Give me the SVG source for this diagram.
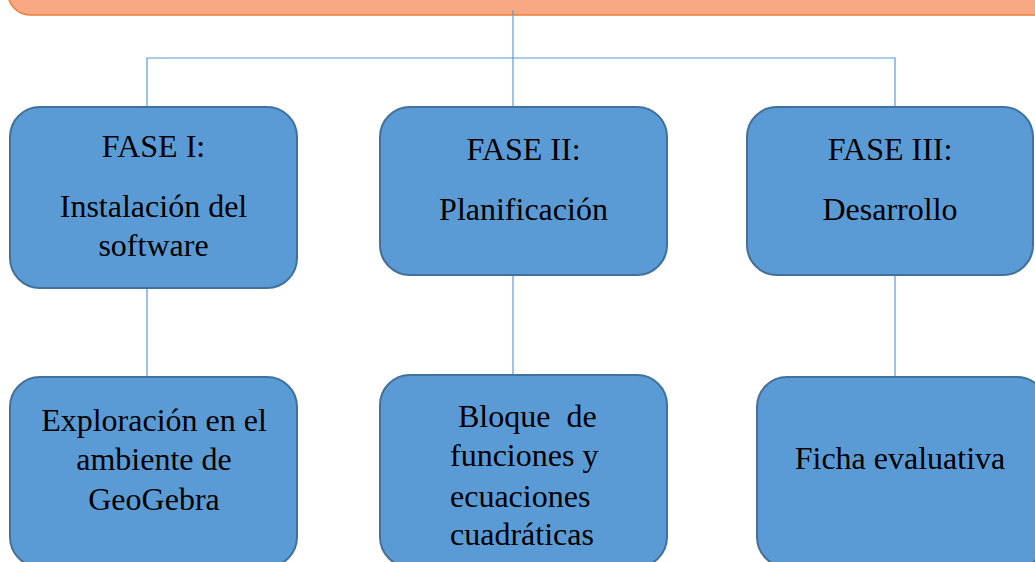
<svg xmlns="http://www.w3.org/2000/svg" width="1035" height="562" viewBox="0 0 1035 562">
<style>
.box{fill:#5B9BD5;stroke:#41719C;stroke-width:2}
.con{stroke:#5B9BD5;stroke-width:1.2;fill:none}
.t{font-family:"Liberation Serif","Times New Roman",serif;font-size:32px;fill:#000}
.c{text-anchor:middle}
</style>
<rect width="1035" height="562" fill="#fff"/>
<g id="header">
<rect x="8" y="-40" width="1060" height="55" rx="22" fill="#F8A882" stroke="#ED7D31" stroke-width="1.5"/>
</g>
<g id="connectors">
<line class="con" x1="513" y1="10" x2="513" y2="107"/>
<polyline class="con" points="147,107 147,58 895,58 895,107"/>
<line class="con" x1="147" y1="288" x2="147" y2="377"/>
<line class="con" x1="513" y1="275" x2="513" y2="375"/>
<line class="con" x1="895" y1="275" x2="895" y2="377"/>
</g>
<g id="fase1">
<rect class="box" x="10" y="107" width="287" height="181" rx="30"/>
<text class="t c" x="153.5" y="157">FASE I:</text>
<text class="t c" x="153.5" y="217">Instalación del</text>
<text class="t c" x="153.5" y="256">software</text>
</g>
<g id="fase2">
<rect class="box" x="380" y="107" width="287" height="168" rx="30"/>
<text class="t c" x="523.5" y="160">FASE II:</text>
<text class="t c" x="523.5" y="220">Planificación</text>
</g>
<g id="fase3">
<rect class="box" x="747" y="107" width="286" height="168" rx="30"/>
<text class="t c" x="890" y="160">FASE III:</text>
<text class="t c" x="890" y="220">Desarrollo</text>
</g>
<g id="exploracion">
<rect class="box" x="10" y="377" width="287" height="190" rx="30"/>
<text class="t c" x="154" y="431">Exploración en el</text>
<text class="t c" x="154" y="470">ambiente de</text>
<text class="t c" x="154" y="510">GeoGebra</text>
</g>
<g id="bloque">
<rect class="box" x="380" y="375" width="287" height="192" rx="30"/>
<text class="t" x="458" y="427" xml:space="preserve">Bloque  de</text>
<text class="t" x="450" y="466">funciones y</text>
<text class="t" x="450" y="507">ecuaciones</text>
<text class="t" x="450" y="545">cuadráticas</text>
</g>
<g id="ficha">
<rect class="box" x="757" y="377" width="290" height="190" rx="30"/>
<text class="t c" x="900" y="469">Ficha evaluativa</text>
</g>
</svg>
